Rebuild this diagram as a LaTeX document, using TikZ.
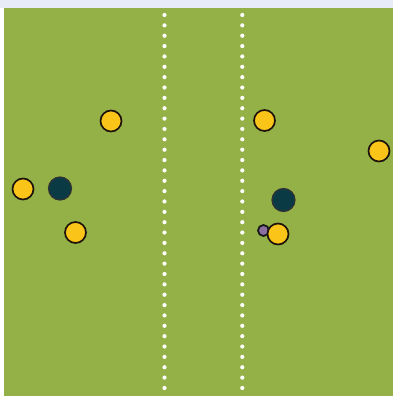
\documentclass[tikz,border=0pt]{standalone}
\begin{document}
\begin{tikzpicture}[x=1pt,y=-1pt,
  yellowplayer/.style={circle,draw=black!85!brown,line width=1.7pt,fill={rgb,255:red,250;green,196;blue,24},minimum size=21pt,inner sep=0pt},
  darkplayer/.style={circle,draw=black!80,line width=1.2pt,fill={rgb,255:red,10;green,58;blue,68},minimum size=23pt,inner sep=0pt},
  smallball/.style={circle,draw=black!90,line width=1.8pt,fill={rgb,255:red,140;green,110;blue,160},minimum size=11pt,inner sep=0pt},
  fielddot/.style={fill=white,draw=none}]
\definecolor{pitch}{RGB}{148,177,72}
\definecolor{topband}{RGB}{232,236,246}
\useasboundingbox (0,0) rectangle (393,396);
\fill[white] (0,0) rectangle (393,396);
\fill[topband] (0,0) rectangle (393,8);
\fill[pitch] (4,8) rectangle (393,396);
% dotted lines
\foreach \i in {0,...,36}{
  \fill[fielddot] (164.5,15+\i*10.36) circle (2.1);
  \fill[fielddot] (242.3,15+\i*10.36) circle (2.1);
}
% players
\node[yellowplayer] (y1) at (111,121) {};
\node[yellowplayer] (y2) at (264.5,120.5) {};
\node[yellowplayer] (y3) at (379,151) {};
\node[yellowplayer] (y4) at (23,189) {};
\node[darkplayer] (d1) at (60,188.5) {};
\node[darkplayer] (d2) at (283.5,200) {};
\node[yellowplayer] (y5) at (75.5,232.5) {};
\node[smallball] (b1) at (263.5,230.5) {};
\node[yellowplayer] (y6) at (278,234) {};
\end{tikzpicture}
\end{document}
